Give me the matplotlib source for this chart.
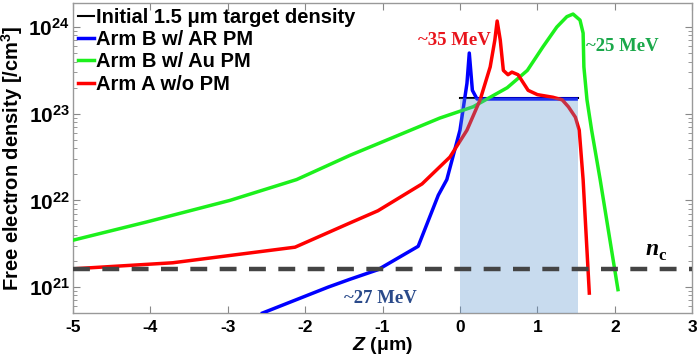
import matplotlib
matplotlib.use("Agg")
import matplotlib.pyplot as plt
import numpy as np
from matplotlib.patches import Rectangle
from matplotlib.ticker import LogLocator, NullFormatter, FixedLocator

plt.rcParams['font.family'] = ['Liberation Sans', 'DejaVu Sans']
plt.rcParams['mathtext.fontset'] = 'custom'
plt.rcParams['mathtext.rm'] = 'Liberation Sans'
plt.rcParams['mathtext.bf'] = 'Liberation Sans:bold'
plt.rcParams['mathtext.it'] = 'Liberation Sans:italic'
plt.rcParams['mathtext.bfit'] = 'Liberation Sans:bold:italic'

# Data (log10 of density)
blue_z = [-2.55, -1.70, -1.42, -1.06, -0.54, -0.28, -0.17, 0.0, 0.09, 0.12, 0.16, 0.22, 1.50]
blue_logn = [20.70, 21.00, 21.09, 21.20, 21.47, 22.06, 22.24, 22.81, 23.35, 23.70, 23.27, 23.17, 23.17]

red_z = [-5.0, -3.71, -2.13, -1.42, -1.06, -0.49, -0.13, 0.09, 0.26, 0.39, 0.45, 0.48, 0.52, 0.56,
         0.62, 0.67, 0.75, 0.88, 1.0, 1.20, 1.32, 1.40, 1.49, 1.54, 1.59, 1.67]
red_logn = [21.21, 21.28, 21.46, 21.74, 21.88, 22.19, 22.50, 22.81, 23.16, 23.54, 23.85, 24.07, 23.85, 23.50,
            23.45, 23.48, 23.45, 23.27, 23.22, 23.19, 23.16, 23.08, 22.96, 22.81, 22.24, 20.93]

green_z = [-5.0, -4.05, -2.97, -2.11, -1.42, -0.26, 0.17, 0.61, 0.87, 1.07, 1.25, 1.38, 1.46, 1.55,
           1.59, 1.60, 1.64, 1.70, 1.81, 2.04]
green_logn = [21.54, 21.75, 22.00, 22.24, 22.52, 22.95, 23.08, 23.30, 23.50, 23.77, 24.00, 24.12, 24.15, 24.08,
              23.93, 23.54, 23.16, 22.81, 22.24, 20.97]

target_z = [0.0, 1.52]
target_n = 1.5e23
n_c = 1.6e21

fig = plt.figure(figsize=(7.0, 3.62), dpi=100)
ax = fig.add_axes([0.104, 0.135, 0.885, 0.857])

ax.plot(target_z, [target_n, target_n], color='black', lw=1.5, label='Initial 1.5 μm target density', zorder=3)
ax.plot(blue_z, 10 ** np.array(blue_logn), color='#0000ff', lw=2.5, label='Arm B w/ AR PM', zorder=4)
ax.plot(green_z, 10 ** np.array(green_logn), color='#1cf01c', lw=2.5, label='Arm B w/ Au PM', zorder=4)
ax.plot(red_z, 10 ** np.array(red_logn), color='#ff0000', lw=2.5, label='Arm A w/o PM', zorder=4)

ax.add_patch(Rectangle((target_z[0], 1e19), target_z[1] - target_z[0], target_n - 1e19,
                       facecolor='#5992ce', alpha=0.33, edgecolor='none', zorder=5))

ax.axhline(n_c, color='#444444', lw=3.2, ls=(0, (3.8, 2.8)), zorder=6)

ax.set_yscale('log')
ax.set_xlim(-5, 3)
ax.set_ylim(5.0e20, 1.9e24)

ax.set_xticks(range(-5, 4))
ax.set_xticklabels([str(v) for v in range(-5, 4)], fontweight='bold', fontsize=12.5)
ax.yaxis.set_major_locator(FixedLocator([1e21, 1e22, 1e23, 1e24]))
ax.set_yticklabels([r'$\mathbf{10^{21}}$', r'$\mathbf{10^{22}}$', r'$\mathbf{10^{23}}$', r'$\mathbf{10^{24}}$'],
                   fontsize=15)
ax.yaxis.set_minor_locator(LogLocator(base=10, subs=np.arange(2, 10)))
ax.yaxis.set_minor_formatter(NullFormatter())

ax.tick_params(axis='both', which='both', direction='in', top=True, right=True, color='#888888')
ax.tick_params(axis='both', which='major', length=5)
ax.tick_params(axis='x', which='major', pad=5)
ax.tick_params(axis='y', which='major', pad=2)
ax.tick_params(axis='both', which='minor', length=3)
for s in ax.spines.values():
    s.set_color('#999999')
    s.set_linewidth(1.0)

ax.set_ylabel('Free electron density [/cm$^\\mathbf{3}$]', fontweight='bold', fontsize=14.5)
ax.yaxis.set_label_coords(-0.077, 0.5)
ax.set_xlabel(r'$\mathbfit{Z}$ (μm)', fontweight='bold', fontsize=14, labelpad=0)

leg = ax.legend(loc='upper left', frameon=False, handlelength=0.8, handletextpad=0.1,
                labelspacing=0.16, borderaxespad=0.05, borderpad=0.2,
                prop={'weight': 'bold', 'size': 14.5})

serif = 'Liberation Serif'
ax.text(-0.07, 10 ** 23.85, '~35 MeV', color='#e8141c', fontsize=13.5, fontweight='bold',
        family=serif, ha='center', va='center')
ax.text(2.1, 10 ** 23.77, '~25 MeV', color='#1aa84a', fontsize=13.5, fontweight='bold',
        family=serif, ha='center', va='center')
ax.text(-1.03, 10 ** 20.87, '~27 MeV', color='#2a4a8a', fontsize=13.5, fontweight='bold',
        family=serif, ha='center', va='center')
ax.text(2.56, 10 ** 21.43, 'n', fontsize=17, fontweight='bold', fontstyle='italic',
        family=serif, ha='right', va='center')
ax.text(2.56, 10 ** 21.36, 'c', fontsize=12, fontweight='bold',
        family=serif, ha='left', va='center')

fig.savefig('out.png', dpi=100)
